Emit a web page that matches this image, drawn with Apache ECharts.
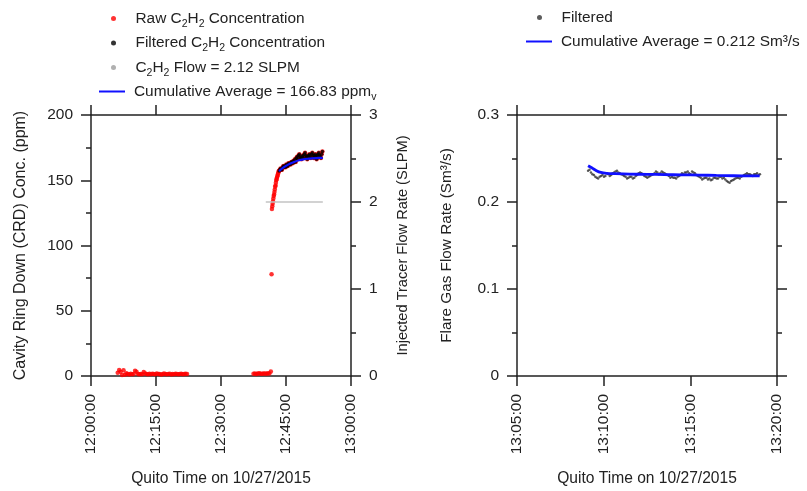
<!DOCTYPE html>
<html>
<head>
<meta charset="utf-8">
<script src="https://cdn.jsdelivr.net/npm/echarts@6/dist/echarts.min.js"></script>
<style>
html,body{margin:0;padding:0;background:#fff;}
#chart{width:807px;height:491px;}
</style>
</head>
<body>
<div id="chart"></div>
<script>
// ---------------- DATA ----------------
// Quito local time, 10/27/2015
const leftXTicks = ['12:00:00', '12:15:00', '12:30:00', '12:45:00', '13:00:00'];
const rightXTicks = ['13:05:00', '13:10:00', '13:15:00', '13:20:00'];

// Raw C2H2 (ppm) - background segment 1, sampled every 20 s
const rawSeg1Start = '12:06:10', rawSeg1Step = 20;
const rawSeg1 = [2.5,4.6,3.2,0.8,4.4,1.0,2.2, 1.5,1.2,1.8,1.4,1.6, 4.0,3.2,1.5, 1.4,1.6,1.3, 3.0,2.0,
  1.5,1.3,1.7,1.4,1.8,1.6,1.3,1.9,1.5,1.6, 1.2,1.4,2.0,1.5,1.3,1.5,1.7,1.2,1.5,1.4,
  1.8,1.5,1.3,1.6,1.7,1.4,1.5,1.8,1.6];
// Raw C2H2 (ppm) - background segment 2, sampled every 20 s
const rawSeg2Start = '12:37:30', rawSeg2Step = 20;
const rawSeg2 = [1.8,2.0,1.6,1.9,2.1,1.7,1.8,2.0,1.9,1.7,2.2,2.0,3.5];
// Raw C2H2 (ppm) - isolated spike
const rawSpikeTimes = ['12:41:40'];
const rawSpike = [78];
// Raw C2H2 (ppm) - release onset, sampled every 5 s
const rawRiseStart = '12:41:45', rawRiseStep = 5;
const rawRise = [128,130,132,134,136,138,139,141,143,145,146,148,150,151,152,153,154,155,156,157];
// Filtered C2H2 (ppm), sampled every 10 s
const filtLStart = '12:43:24', filtLStep = 10;
const filtL = [157,158,159,158,158,160,161,160,161,160,
  162,161,161,163,162,163,162,164,164,163,
  165,164,166,164,167,168,166,169,170,168,
  167,166,168,169,167,170,171,169,168,166,
  168,169,170,168,167,170,171,169,167,169,
  170,168,166,169,170,171,169,168,167,170,
  172];
// Cumulative average (ppm)
const cumLTimes = ['12:43:24','12:44:00','12:45:00','12:46:00','12:47:00','12:48:00','12:49:00','12:50:00','12:51:00','12:52:00','12:53:30'];
const cumL = [157,158.8,161,162.8,164.2,165.3,166.0,166.5,166.8,167.0,167.2];
// C2H2 injected flow (SLPM)
const flowTimes = ['12:40:20','12:45:00','12:50:00','12:53:30'];
const flowVals = [2.0,2.0,2.0,2.0];

// Right panel: filtered flare gas flow (Sm3/s), sampled every 5 s
const filtRStart = '13:09:06', filtRStep = 5;
const filtR = [
  0.236,0.237,0.234,0.232,0.231,0.229,0.228,0.227,0.229,0.230,0.231,0.229,0.230,0.233,0.232,0.230,0.231,0.233,0.234,0.235,0.236,0.234,0.233,0.232,
  0.231,0.230,0.229,0.227,0.228,0.229,0.229,0.227,0.228,0.230,0.231,0.233,0.234,0.233,0.232,0.230,0.229,0.228,0.229,0.230,0.231,0.232,0.233,0.235,
  0.234,0.232,0.233,0.235,0.234,0.233,0.232,0.231,0.230,0.228,0.229,0.228,0.228,0.227,0.229,0.230,0.231,0.233,0.232,0.234,0.234,0.235,0.233,0.232,
  0.235,0.234,0.233,0.231,0.230,0.229,0.228,0.226,0.227,0.228,0.228,0.226,0.227,0.225,0.226,0.228,0.228,0.227,0.227,0.229,0.229,0.227,0.228,0.226,
  0.224,0.223,0.222,0.224,0.225,0.226,0.227,0.228,0.228,0.227,0.229,0.230,0.231,0.232,0.233,0.232,0.232,0.231,0.230,0.232,0.232,0.233,0.231,0.232];
const cumRTimes = ['13:09:06','13:09:20','13:09:35','13:09:50','13:10:10','13:10:40','13:11:30','13:12:30','13:13:30','13:14:30','13:15:30','13:16:30','13:17:30','13:18:30','13:19:00'];
const cumR = [0.2417,0.2390,0.2360,0.2340,0.2330,0.2325,0.2320,0.2318,0.2315,0.2312,0.2310,0.2305,0.2302,0.2300,0.2300];

// ---------------- HELPERS ----------------
const toSec = t => { const p = t.split(':').map(Number); return p[0]*3600 + p[1]*60 + p[2]; };
const pad = n => String(n).padStart(2, '0');
const fmtTime = v => pad(Math.floor(v/3600)) + ':' + pad(Math.floor((v%3600)/60)) + ':' + pad(Math.round(v%60));
const sampled = (start, step, vals) => vals.map((v, i) => [toSec(start) + i*step, v]);
const paired = (times, vals) => times.map((t, i) => [toSec(t), vals[i]]);

const filtLData = sampled(filtLStart, filtLStep, filtL);
const rawData = [].concat(
  sampled(rawSeg1Start, rawSeg1Step, rawSeg1),
  sampled(rawSeg2Start, rawSeg2Step, rawSeg2),
  paired(rawSpikeTimes, rawSpike),
  sampled(rawRiseStart, rawRiseStep, rawRise),
  filtLData
);

const FONT = "'Liberation Sans', Arial, sans-serif";
const LFS = 15.4;  // legend
const TFS = 15.5;  // tick labels
const TXT = '#222';
const AX = '#222';

const N_RAW = 'Raw C2H2 Concentration';
const N_FILT = 'Filtered C2H2 Concentration';
const N_FLOW = 'C2H2 Flow = 2.12 SLPM';
const N_CUML = 'Cumulative Average = 166.83 ppmv';
const N_FILTR = 'Filtered';
const N_CUMR = 'Cumulative Average = 0.212 Sm³/s';

const legendRich = {
  n: {fontSize: LFS, fontFamily: FONT, color: TXT, lineHeight: 22},
  s: {fontSize: 10.5, fontFamily: FONT, color: TXT, verticalAlign: 'bottom', lineHeight: 12}
};
const legendFmt = name => {
  const map = {};
  map[N_RAW] = '{n|Raw C}{s|2}{n|H}{s|2}{n| Concentration}';
  map[N_FILT] = '{n|Filtered C}{s|2}{n|H}{s|2}{n| Concentration}';
  map[N_FLOW] = '{n|C}{s|2}{n|H}{s|2}{n| Flow = 2.12 SLPM}';
  map[N_CUML] = '{n|Cumulative Average = 166.83 ppm}{s|v}';
  return map[name] || ('{n|' + name + '}');
};

function legendBox(data, left, top, gap, extra) {
  return Object.assign({
    orient: 'vertical', left: left, top: top, itemGap: gap,
    itemWidth: 26, itemHeight: 5, selectedMode: false,
    formatter: legendFmt,
    textStyle: {fontSize: LFS, fontFamily: FONT, color: TXT, rich: legendRich, padding: [0,0,0,4]},
    data: data
  }, extra || {});
}

function xAx(grid, min, max, interval, bottom) {
  return {
    type: 'value', gridIndex: grid, min: min, max: max, interval: interval,
    position: bottom ? 'bottom' : 'top',
    axisLine: {show: true, onZero: false, lineStyle: {color: AX, width: 1.5}},
    axisTick: {show: true, inside: false, length: 10, lineStyle: {color: AX, width: 1.5}},
    axisLabel: bottom ? {show: true, rotate: 90, margin: 18, fontSize: TFS, fontFamily: FONT, color: TXT, formatter: fmtTime} : {show: false},
    splitLine: {show: false},
    name: bottom ? 'Quito Time on 10/27/2015' : '',
    nameLocation: 'middle', nameGap: 95,
    nameTextStyle: {fontSize: 15.6, fontFamily: FONT, color: TXT}
  };
}
function yAx(grid, min, max, interval, pos, showLabel, name, nameGap, labelMargin, nameSize) {
  return {
    type: 'value', gridIndex: grid, min: min, max: max, interval: interval, position: pos,
    axisLine: {show: true, onZero: false, lineStyle: {color: AX, width: 1.5}},
    axisTick: {show: true, inside: false, length: 10, lineStyle: {color: AX, width: 1.5}},
    minorTick: {show: true, splitNumber: 2, length: 5, lineStyle: {color: AX, width: 1.5}},
    axisLabel: {show: showLabel, margin: labelMargin, fontSize: TFS, fontFamily: FONT, color: TXT},
    splitLine: {show: false}, minorSplitLine: {show: false},
    name: name, nameLocation: 'middle', nameGap: nameGap, nameRotate: 90,
    nameTextStyle: {fontSize: nameSize || 16, fontFamily: FONT, color: TXT}
  };
}

const option = {
  backgroundColor: '#fff',
  animation: false,
  textStyle: {fontFamily: FONT},
  grid: [
    {left: 91, top: 115, width: 260, height: 261, containLabel: false, outerBoundsMode: 'none'},
    {left: 517, top: 115, width: 260, height: 261, containLabel: false, outerBoundsMode: 'none'}
  ],
  legend: [
    legendBox([{name: N_RAW, icon: 'circle'}, {name: N_FILT, icon: 'circle'}, {name: N_FLOW, icon: 'circle'}], 106, 6, 6),
    legendBox([{name: N_CUML, icon: 'rect'}], 94, 79, 3, {itemHeight: 2}),
    legendBox([{name: N_FILTR, icon: 'circle'}], 532, 5, 3),
    legendBox([{name: N_CUMR, icon: 'rect'}], 521, 29, 3, {itemHeight: 2})
  ],
  xAxis: [
    xAx(0, toSec(leftXTicks[0]), toSec(leftXTicks[leftXTicks.length-1]), 900, true),
    xAx(0, toSec(leftXTicks[0]), toSec(leftXTicks[leftXTicks.length-1]), 900, false),
    xAx(1, toSec(rightXTicks[0]), toSec(rightXTicks[rightXTicks.length-1]), 300, true),
    xAx(1, toSec(rightXTicks[0]), toSec(rightXTicks[rightXTicks.length-1]), 300, false)
  ],
  yAxis: [
    yAx(0, 0, 200, 50, 'left', true, 'Cavity Ring Down (CRD) Conc. (ppm)', 62, 18, 16),
    yAx(0, 0, 3, 1, 'right', true, 'Injected Tracer Flow Rate (SLPM)', 44, 18, 14.6),
    yAx(1, 0, 0.3, 0.1, 'left', true, 'Flare Gas Flow Rate (Sm³/s)', 63, 18, 15.3),
    yAx(1, 0, 0.3, 0.1, 'right', false, '', 0, 18)
  ],
  series: [
    {name: N_RAW, type: 'scatter', xAxisIndex: 0, yAxisIndex: 0, data: rawData,
     symbol: 'circle', symbolSize: 4.5, itemStyle: {color: '#ff0000'}},
    {name: N_FILT, type: 'scatter', xAxisIndex: 0, yAxisIndex: 0, data: filtLData,
     symbol: 'circle', symbolSize: 3.5, itemStyle: {color: '#000'}},
    {name: N_FLOW, type: 'line', xAxisIndex: 0, yAxisIndex: 1, data: paired(flowTimes, flowVals),
     symbol: 'none', lineStyle: {color: '#c4c4c4', width: 1.5}, itemStyle: {color: '#b0b0b0'}},
    {name: N_CUML, type: 'line', xAxisIndex: 0, yAxisIndex: 0, data: paired(cumLTimes, cumL),
     symbol: 'none', smooth: 0.3, lineStyle: {color: '#1010ff', width: 2.2}, itemStyle: {color: '#1010ff'}},
    {name: N_FILTR, type: 'scatter', xAxisIndex: 2, yAxisIndex: 2, data: sampled(filtRStart, filtRStep, filtR),
     symbol: 'circle', symbolSize: 2.5, itemStyle: {color: '#333'}},
    {name: N_CUMR, type: 'line', xAxisIndex: 2, yAxisIndex: 2, data: paired(cumRTimes, cumR),
     symbol: 'none', smooth: 0.3, lineStyle: {color: '#1010ff', width: 2.8}, itemStyle: {color: '#1010ff'}}
  ]
};

const chart = echarts.init(document.getElementById('chart'), null, {renderer: 'canvas'});
chart.setOption(option);
</script>
</body>
</html>
